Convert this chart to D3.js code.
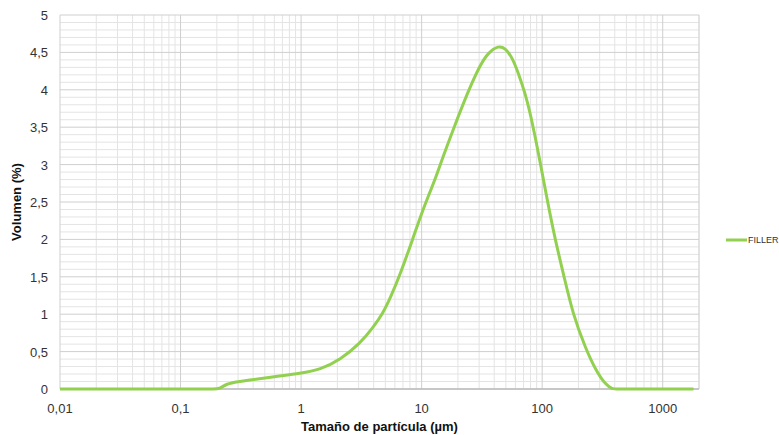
<!DOCTYPE html>
<html lang="es">
<head>
    <meta charset="UTF-8">
    <title>Distribución granulométrica</title>
    <script src="https://d3js.org/d3.v7.min.js"></script>
    <style>
        body { margin: 0; background: #fff; }
        text { font-family: "Liberation Sans", Arial, sans-serif; }
        .tick_label { font-size: 13px; fill: #333; }
        .axis_title { font-size: 13px; font-weight: bold; fill: #111; }
        .legend_text { font-size: 9px; fill: #333; }
    </style>
</head>
<body>
<svg id="chart"></svg>
<script>
    // particle size (µm) and volume (%)
    const sizes = [0.01, 0.03, 0.06, 0.1, 0.15, 0.19, 0.21, 0.24, 0.3, 0.38, 0.59, 1, 1.44, 2.11, 3.09, 3.98, 4.72, 5.48, 6.7, 8.5,
        10, 11.5, 13, 15, 18.4, 22.2, 26.1, 30.6, 35.8, 43.4, 49.3, 56.1, 63.6, 72.3, 79.5, 87.5, 95,
        111, 128, 152, 180, 228, 282, 340, 380, 420, 600, 1000, 1800];
    const volumes = [0, 0, 0, 0, 0, 0, 0, 0.07, 0.10, 0.12, 0.165, 0.21, 0.26, 0.39, 0.61, 0.83, 1.0, 1.21, 1.55, 2.02,
        2.35, 2.60, 2.81, 3.10, 3.48, 3.82, 4.09, 4.33, 4.50, 4.59, 4.56, 4.44, 4.22, 3.95, 3.69, 3.37, 3.08,
        2.5, 2.0, 1.5, 1.0, 0.55, 0.232, 0.05, 0, 0, 0, 0, 0];
    const seriesName = "FILLER";
    const xTicks = [0.01, 0.1, 1, 10, 100, 1000];
    const xTickLabels = ["0,01", "0,1", "1", "10", "100", "1000"];
    const yTicks = [0, 0.5, 1, 1.5, 2, 2.5, 3, 3.5, 4, 4.5, 5];
    const yTickLabels = ["0", "0,5", "1", "1,5", "2", "2,5", "3", "3,5", "4", "4,5", "5"];

    const width = 779, height = 435;
    const margin = {left: 60, right: 80, top: 15, bottom: 46};

    const svg = d3.select("#chart")
        .attr("width", width)
        .attr("height", height);

    const x = d3.scaleLog()
        .domain([0.01, 2000])
        .range([margin.left, width - margin.right]);
    const y = d3.scaleLinear()
        .domain([0, 5])
        .range([height - margin.bottom, margin.top]);

    // minor grid
    let minorX = [];
    [0.01, 0.1, 1, 10, 100, 1000].forEach(function (d) {
        for (let k = 2; k <= 9; k++) {
            if (d * k <= 2000) minorX.push(d * k);
        }
    });
    let minorY = d3.range(0, 51).map(d => d / 10).filter(d => Math.round(d * 10) % 5 !== 0);

    const grid = svg.append("g");
    grid.selectAll(".minor_y")
        .data(minorY)
        .enter().append("line")
        .attr("x1", x.range()[0]).attr("x2", x.range()[1])
        .attr("y1", d => y(d)).attr("y2", d => y(d))
        .attr("stroke", "#e4e4e4").attr("stroke-width", 1);
    grid.selectAll(".minor_x")
        .data(minorX)
        .enter().append("line")
        .attr("x1", d => x(d)).attr("x2", d => x(d))
        .attr("y1", y(0)).attr("y2", y(5))
        .attr("stroke", "#e4e4e4").attr("stroke-width", 1);
    grid.selectAll(".major_y")
        .data(yTicks)
        .enter().append("line")
        .attr("x1", x.range()[0]).attr("x2", x.range()[1])
        .attr("y1", d => y(d)).attr("y2", d => y(d))
        .attr("stroke", "#cfcfcf").attr("stroke-width", 1);
    grid.selectAll(".major_x")
        .data(xTicks)
        .enter().append("line")
        .attr("x1", d => x(d)).attr("x2", d => x(d))
        .attr("y1", y(0)).attr("y2", y(5))
        .attr("stroke", "#cfcfcf").attr("stroke-width", 1);
    // right border
    grid.append("line")
        .attr("x1", x(2000)).attr("x2", x(2000))
        .attr("y1", y(0)).attr("y2", y(5))
        .attr("stroke", "#d4d4d4");
    // bottom axis line
    grid.append("line")
        .attr("x1", x.range()[0]).attr("x2", x.range()[1])
        .attr("y1", y(0)).attr("y2", y(0))
        .attr("stroke", "#bdbdbd").attr("stroke-width", 1.5);

    // tick labels
    svg.selectAll(".ylab")
        .data(yTicks)
        .enter().append("text")
        .attr("class", "tick_label")
        .attr("x", margin.left - 12)
        .attr("y", d => y(d) + 5)
        .attr("text-anchor", "end")
        .text((d, i) => yTickLabels[i]);
    svg.selectAll(".xlab")
        .data(xTicks)
        .enter().append("text")
        .attr("class", "tick_label")
        .attr("x", d => x(d))
        .attr("y", y(0) + 24)
        .attr("text-anchor", "middle")
        .text((d, i) => xTickLabels[i]);

    // axis titles
    svg.append("text")
        .attr("class", "axis_title")
        .attr("transform", "translate(21," + ((y(0) + y(5)) / 2) + ") rotate(-90)")
        .attr("text-anchor", "middle")
        .text("Volumen (%)");
    svg.append("text")
        .attr("class", "axis_title")
        .attr("x", (x.range()[0] + x.range()[1]) / 2)
        .attr("y", 431)
        .attr("text-anchor", "middle")
        .text("Tamaño de partícula (µm)");

    // series
    const data = sizes.map((d, i) => ({size: d, value: volumes[i]}));
    const line = d3.line()
        .x(d => x(d.size))
        .y(d => y(d.value))
        .curve(d3.curveBasis);
    svg.append("path")
        .datum(data)
        .attr("d", line)
        .attr("fill", "none")
        .attr("stroke", "#92d050")
        .attr("stroke-width", 3)
        .attr("stroke-linejoin", "round");

    // legend
    const legend = svg.append("g").attr("transform", "translate(726,240)");
    legend.append("line")
        .attr("x1", 0).attr("x2", 21)
        .attr("y1", 0).attr("y2", 0)
        .attr("stroke", "#92d050").attr("stroke-width", 3);
    legend.append("text")
        .attr("class", "legend_text")
        .attr("x", 22)
        .attr("y", 3)
        .text(seriesName);
</script>
</body>
</html>
